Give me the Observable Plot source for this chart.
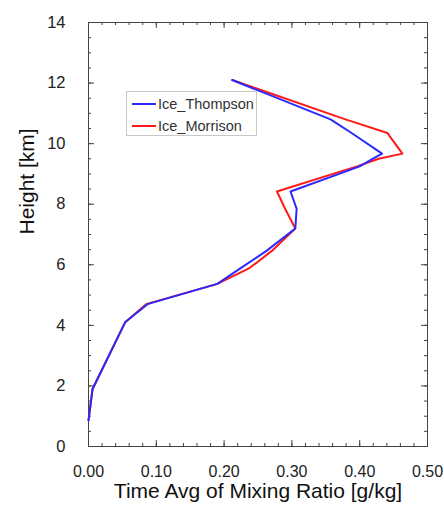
<!DOCTYPE html>
<html>
<head>
<meta charset="utf-8">
<script src="https://cdn.jsdelivr.net/npm/d3@7"></script>
<script src="https://cdn.jsdelivr.net/npm/@observablehq/plot@0.6"></script>
<style>
  body { margin: 0; background: #fff; font-family: "Liberation Sans", Arial, sans-serif; }
  #chart { position: relative; width: 444px; height: 515px; }
  .legend {
    position: absolute; left: 126px; top: 91px; width: 131px; height: 45px;
    border: 1px solid #c8c8c8; background: #fff; box-sizing: border-box;
    font-size: 14.5px; color: #333;
  }
  .legend .row { position: absolute; left: 5px; display: flex; align-items: center; height: 16px; }
  .legend .swatch { width: 24px; height: 2px; margin-right: 2px; }
</style>
</head>
<body>
<div id="chart"></div>
<script>
// Model levels (km) shared by both microphysics runs
const heights  = [0.86, 1.9, 4.1, 4.7, 5.37, 5.9, 6.45, 7.2, 7.85, 8.42, 9.25, 9.5, 9.67, 10.35, 10.8, 12.1];
// Time-averaged ice mixing ratio (g/kg) at each level
const thompson = [0.000, 0.006, 0.054, 0.087, 0.190, 0.225, 0.262, 0.305, 0.307, 0.298, 0.400, 0.419, 0.433, 0.388, 0.357, 0.212];
const morrison = [0.000, 0.006, 0.054, 0.085, 0.190, 0.238, 0.270, 0.305, 0.290, 0.278, 0.396, 0.428, 0.463, 0.441, 0.379, 0.212];

const seriesNames  = ["Ice_Thompson", "Ice_Morrison"];
const seriesColors = ["#2a2aff", "#ff1a1a"];

const xTicks = [0, 0.1, 0.2, 0.3, 0.4, 0.5];
const yTicks = [0, 2, 4, 6, 8, 10, 12, 14];
const xMinor = d3.range(0, 0.5001, 0.02);
const yMinor = d3.range(0, 14.001, 0.5);

const xTitle = "Time Avg of Mixing Ratio [g/kg]";
const yTitle = "Height [km]";

const rows = (name, vals) => heights.map((h, i) => ({series: name, height: h, value: vals[i]}));
const thompsonRows = rows(seriesNames[0], thompson);
const morrisonRows = rows(seriesNames[1], morrison);

const W = 444, H = 515;
const mL = 88, mR = 17, mT = 22, mB = 69;
const innerW = W - mL - mR, innerH = H - mT - mB;
const axisColor = "#444";
const font = "Liberation Sans, Arial, sans-serif";

// inward ticks on all four sides
const tickMarks = (vals, len) => [
  Plot.tickX(vals, {x: d => d, insetTop: innerH - len, stroke: axisColor}),
  Plot.tickX(vals, {x: d => d, insetBottom: innerH - len, stroke: axisColor}),
];
const tickMarksY = (vals, len) => [
  Plot.tickY(vals, {y: d => d, insetRight: innerW - len, stroke: axisColor}),
  Plot.tickY(vals, {y: d => d, insetLeft: innerW - len, stroke: axisColor}),
];

const chart = Plot.plot({
  width: W, height: H,
  marginLeft: mL, marginRight: mR, marginTop: mT, marginBottom: mB,
  style: {fontFamily: font, background: "#fff", overflow: "visible"},
  x: {domain: [0, 0.5]},
  y: {domain: [0, 14]},
  marks: [
    ...tickMarks(xMinor, 3),
    ...tickMarks(xTicks, 6),
    ...tickMarksY(yMinor, 3),
    ...tickMarksY(yTicks, 6),
    Plot.frame({stroke: axisColor}),
    Plot.axisX(xTicks, {tickSize: 0, tickPadding: 19, tickFormat: d => d.toFixed(2), fontSize: 16, fill: "#222", label: null}),
    Plot.axisY(yTicks, {tickSize: 0, tickPadding: 23, fontSize: 16.5, fill: "#222", label: null}),
    Plot.text([xTitle], {frameAnchor: "bottom", dy: 51, fontSize: 21, fill: "#111", text: d => d}),
    Plot.text([yTitle], {frameAnchor: "left", dx: -61, rotate: -90, fontSize: 21, fill: "#111", text: d => d}),
    Plot.line(morrisonRows, {x: "value", y: "height", stroke: seriesColors[1], strokeWidth: 2}),
    Plot.line(thompsonRows, {x: "value", y: "height", stroke: seriesColors[0], strokeWidth: 2})
  ]
});

const holder = document.getElementById("chart");
holder.appendChild(chart);

// legend box drawn over the upper-left part of the panel
const legend = document.createElement("div");
legend.className = "legend";
seriesNames.forEach((name, i) => {
  const row = document.createElement("div");
  row.className = "row";
  row.style.top = (i === 0 ? 4 : 26) + "px";
  const sw = document.createElement("div");
  sw.className = "swatch";
  sw.style.background = seriesColors[i];
  const label = document.createElement("span");
  label.textContent = name;
  row.appendChild(sw);
  row.appendChild(label);
  legend.appendChild(row);
});
holder.appendChild(legend);
</script>
</body>
</html>
